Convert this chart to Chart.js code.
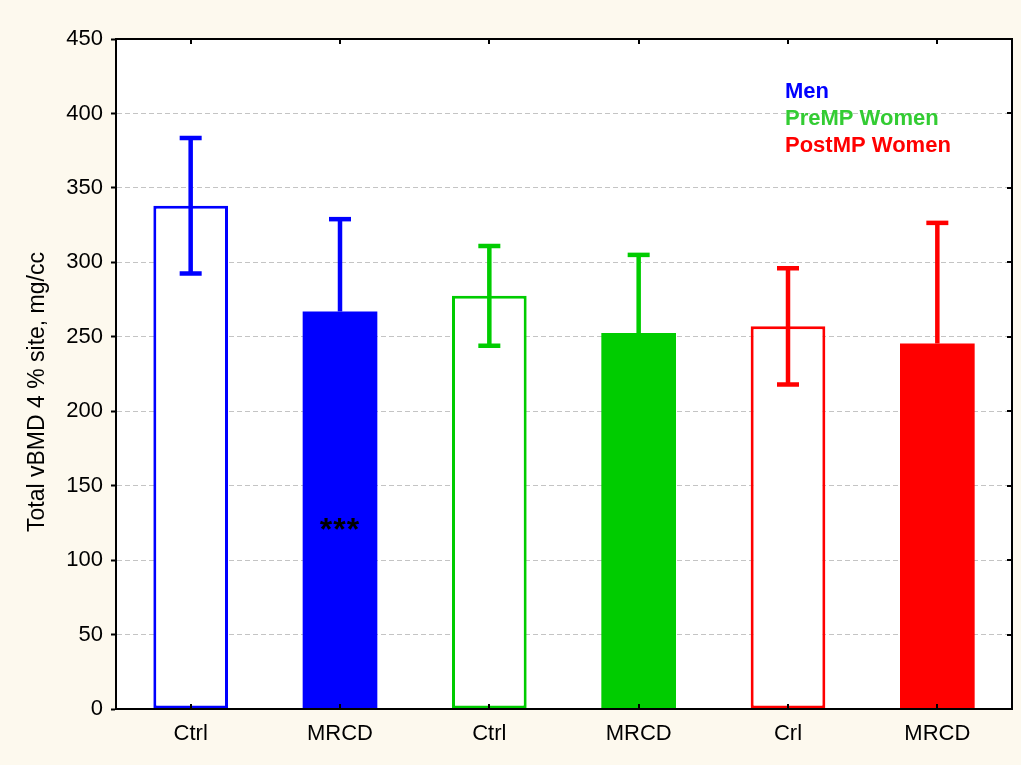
<!DOCTYPE html>
<html>
<head>
<meta charset="utf-8">
<script src="https://cdn.jsdelivr.net/npm/chart.js@4.4.1/dist/chart.umd.min.js"></script>
<style>
  html, body { margin: 0; padding: 0; background: #fdf9ee; }
  #wrap { width: 1021px; height: 765px; }
</style>
</head>
<body>
<div id="wrap"><canvas id="c" width="1021" height="765"></canvas></div>
<script>
// Bar categories and their groups
const categories = ['Ctrl', 'MRCD', 'Ctrl', 'MRCD', 'Crl', 'MRCD'];
const groups = ['Men', 'Men', 'PreMP Women', 'PreMP Women', 'PostMP Women', 'PostMP Women'];
// Mean total vBMD (mg/cc) and the error-bar half length
const meanValues = [338, 267, 277.5, 252.5, 257, 245.5];
const errorValues = [45.5, 62, 33.5, 52.5, 39, 81];
// Filled bars are the MRCD groups, open bars the controls
const filledBars = [false, true, false, true, false, true];
// Y axis ticks
const yTicks = [0, 50, 100, 150, 200, 250, 300, 350, 400, 450];
// Legend entries
const legendLabels = ['Men', 'PreMP Women', 'PostMP Women'];
// Significance marker: text, bar index, value at which it sits
const markText = '***';
const markBar = 1;
const markValue = 125;

const barColors = { 'Men': '#0000ff', 'PreMP Women': '#00cc00', 'PostMP Women': '#ff0000' };
const legendColors = { 'Men': '#0000ff', 'PreMP Women': '#33cc33', 'PostMP Women': '#ff0000' };
const FONT = '"Liberation Sans", Arial, sans-serif';

const pageBackground = {
  id: 'pageBackground',
  beforeDraw(chart) {
    const { ctx, chartArea: a } = chart;
    ctx.save();
    ctx.fillStyle = '#fdf9ee';
    ctx.fillRect(0, 0, chart.width, chart.height);
    ctx.fillStyle = '#ffffff';
    ctx.fillRect(a.left, a.top, a.right - a.left, a.bottom - a.top);
    ctx.restore();
  }
};

const errorBars = {
  id: 'errorBars',
  afterDatasetsDraw(chart) {
    const { ctx } = chart;
    const y = chart.scales.y;
    const meta = chart.getDatasetMeta(0);
    ctx.save();
    ctx.setLineDash([]);
    meta.data.forEach((bar, i) => {
      const color = barColors[groups[i]];
      const yTop = y.getPixelForValue(meanValues[i] + errorValues[i]);
      const yMean = y.getPixelForValue(meanValues[i]);
      const yBot = y.getPixelForValue(meanValues[i] - errorValues[i]);
      const yEnd = filledBars[i] ? yMean : yBot;
      const cap = 11;
      ctx.strokeStyle = color;
      ctx.lineCap = 'butt';
      ctx.lineWidth = 4.5;
      ctx.beginPath();
      ctx.moveTo(bar.x, yTop);
      ctx.lineTo(bar.x, yEnd);
      ctx.stroke();
      ctx.beginPath();
      ctx.moveTo(bar.x - cap, yTop);
      ctx.lineTo(bar.x + cap, yTop);
      if (!filledBars[i]) {
        ctx.moveTo(bar.x - cap, yBot);
        ctx.lineTo(bar.x + cap, yBot);
      }
      ctx.stroke();
    });
    // significance marker
    const mb = meta.data[markBar];
    ctx.fillStyle = '#000000';
    ctx.font = 'bold 32px ' + FONT;
    ctx.textAlign = 'center';
    ctx.textBaseline = 'middle';
    if ('letterSpacing' in ctx) ctx.letterSpacing = '1px';
    ctx.fillText(markText, mb.x, y.getPixelForValue(markValue) + 8);
    ctx.restore();
  }
};

const frameAndLabels = {
  id: 'frameAndLabels',
  afterDraw(chart) {
    const { ctx, chartArea: a } = chart;
    const y = chart.scales.y;
    const meta = chart.getDatasetMeta(0);
    ctx.save();
    ctx.setLineDash([]);
    ctx.strokeStyle = '#000000';
    ctx.lineWidth = 2;
    ctx.strokeRect(a.left, a.top, a.right - a.left, a.bottom - a.top);
    ctx.beginPath();
    // inward ticks on the right edge
    yTicks.forEach(v => {
      const py = Math.round(y.getPixelForValue(v));
      ctx.moveTo(a.right, py);
      ctx.lineTo(a.right - 5, py);
    });
    // inward ticks on top and bottom at category centres
    meta.data.forEach(bar => {
      const px = Math.round(bar.x);
      ctx.moveTo(px, a.top);
      ctx.lineTo(px, a.top + 5);
      ctx.moveTo(px, a.bottom);
      ctx.lineTo(px, a.bottom - 5);
    });
    ctx.stroke();

    // legend text
    ctx.font = 'bold 22px ' + FONT;
    ctx.textAlign = 'left';
    ctx.textBaseline = 'alphabetic';
    legendLabels.forEach((lab, i) => {
      ctx.fillStyle = legendColors[lab];
      ctx.fillText(lab, 785, 98 + i * 27);
    });

    // y axis title
    ctx.fillStyle = '#000000';
    ctx.font = '23px ' + FONT;
    ctx.translate(38, 392);
    ctx.rotate(-Math.PI / 2);
    ctx.textAlign = 'center';
    ctx.textBaseline = 'middle';
    ctx.fillText('Total vBMD 4 % site, mg/cc', 0, 0);
    ctx.restore();
  }
};

new Chart(document.getElementById('c'), {
  type: 'bar',
  data: {
    labels: categories,
    datasets: [{
      data: meanValues,
      backgroundColor: groups.map((g, i) => filledBars[i] ? barColors[g] : '#ffffff'),
      borderColor: groups.map(g => barColors[g]),
      borderWidth: filledBars.map(f => f ? 0 : 3),
      borderSkipped: false,
      categoryPercentage: 0.5,
      barPercentage: 1.0
    }]
  },
  options: {
    responsive: false,
    animation: false,
    devicePixelRatio: 1,
    layout: { padding: { top: 39, right: 9, left: 0, bottom: 0 } },
    plugins: { legend: { display: false }, tooltip: { enabled: false } },
    scales: {
      x: {
        afterFit(s) { s.height = 56; },
        grid: { display: false, drawTicks: false },
        border: { display: false },
        ticks: { color: '#000000', font: { family: FONT, size: 22 }, padding: 12 }
      },
      y: {
        min: 0,
        max: 450,
        afterFit(s) { s.width = 116; },
        afterBuildTicks(s) { s.ticks = yTicks.map(v => ({ value: v })); },
        grid: {
          color: '#c4c4c4',
          lineWidth: 1,
          tickColor: '#000000',
          tickWidth: 2,
          tickLength: 5,
          tickBorderDash: []
        },
        border: { display: true, color: '#000000', width: 2, dash: [5, 3] },
        ticks: { color: '#000000', font: { family: FONT, size: 22 }, padding: 8 }
      }
    }
  },
  plugins: [pageBackground, errorBars, frameAndLabels]
});
</script>
</body>
</html>
